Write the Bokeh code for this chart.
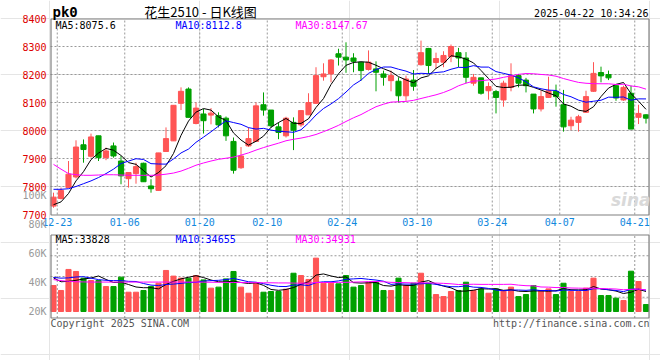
from bokeh.plotting import figure
from bokeh.models import (Range1d, LinearAxis, FixedTicker, Label, PrintfTickFormatter,
                          ColumnDataSource)
from bokeh.embed import file_html
from bokeh.resources import INLINE

# ---------------- data ----------------
dates = ["12-20", "12-23", "12-24", "12-25", "12-26", "12-27", "12-30", "12-31",
         "01-02", "01-03", "01-06", "01-07", "01-08", "01-09", "01-10", "01-13",
         "01-14", "01-15", "01-16", "01-17", "01-20", "01-21", "01-22", "01-23",
         "01-24", "01-27", "02-05", "02-06", "02-07", "02-10", "02-11", "02-12",
         "02-13", "02-14", "02-17", "02-18", "02-19", "02-20", "02-21", "02-24",
         "02-25", "02-26", "02-27", "02-28", "03-03", "03-04", "03-05", "03-06",
         "03-07", "03-10", "03-11", "03-12", "03-13", "03-14", "03-17", "03-18",
         "03-19", "03-20", "03-21", "03-24", "03-25", "03-26", "03-27", "03-28",
         "03-31", "04-01", "04-02", "04-03", "04-07", "04-08", "04-09", "04-10",
         "04-11", "04-14", "04-15", "04-16", "04-17", "04-18", "04-21", "04-22"]
tick_dates = ["12-23", "01-06", "01-20", "02-10", "02-24", "03-10", "03-24", "04-07", "04-21"]

opens = [7730, 7757, 7796, 7834, 7949, 7908, 7981, 7903, 7945, 7891,
         7828, 7846, 7883, 7802, 7786, 7925, 7963, 8097, 8148, 8025,
         8059, 8055, 8053, 8044, 7961, 7867, 7945, 7961, 8092, 8073,
         8013, 7981, 8029, 8020, 8056, 8097, 8192, 8202, 8274, 8262,
         8259, 8244, 8218, 8220, 8202, 8178, 8176, 8124, 8180, 8235,
         8293, 8243, 8244, 8264, 8278, 8259, 8169, 8188, 8142, 8139,
         8109, 8154, 8196, 8180, 8130, 8077, 8118, 8140, 8092, 8017,
         8029, 8065, 8140, 8207, 8200, 8160, 8109, 8133, 8047, 8056]
highs = [7778, 7796, 7891, 7965, 7968, 7989, 7981, 7939, 7957, 7909,
         7850, 7885, 7885, 7826, 7920, 8011, 8090, 8154, 8154, 8100,
         8077, 8080, 8065, 8050, 7975, 7941, 8011, 8100, 8136, 8073,
         8029, 8049, 8047, 8073, 8133, 8226, 8240, 8255, 8292, 8315,
         8276, 8244, 8286, 8247, 8214, 8214, 8190, 8196, 8216, 8321,
         8295, 8278, 8283, 8307, 8295, 8280, 8202, 8188, 8172, 8145,
         8178, 8240, 8202, 8188, 8130, 8142, 8192, 8164, 8145, 8049,
         8056, 8142, 8244, 8228, 8214, 8165, 8160, 8160, 8092, 8058]
lows = [7724, 7754, 7796, 7829, 7885, 7903, 7891, 7894, 7903, 7808,
        7796, 7810, 7817, 7778, 7784, 7925, 7963, 8073, 8047, 8022,
        7989, 8022, 8011, 7963, 7846, 7863, 7941, 7961, 8053, 8010,
        7969, 7975, 7930, 8013, 8056, 8095, 8178, 8172, 8232, 8206,
        8208, 8178, 8214, 8140, 8160, 8140, 8100, 8106, 8142, 8232,
        8202, 8220, 8226, 8244, 8226, 8169, 8160, 8128, 8110, 8061,
        8085, 8140, 8154, 8136, 8061, 8068, 8116, 8085, 7996, 8001,
        7996, 8063, 8138, 8172, 8180, 8106, 8106, 8005, 8023, 8025]
closes = [7762, 7786, 7844, 7941, 7932, 7977, 7903, 7927, 7909, 7838,
          7850, 7871, 7817, 7792, 7920, 7971, 8090, 8140, 8047, 8080,
          8035, 8062, 8020, 7981, 7858, 7909, 7971, 8088, 8073, 8017,
          7993, 8044, 8001, 8071, 8100, 8196, 8202, 8252, 8262, 8252,
          8247, 8214, 8244, 8208, 8190, 8196, 8124, 8184, 8158, 8278,
          8232, 8257, 8268, 8300, 8259, 8190, 8190, 8133, 8157, 8118,
          8169, 8196, 8169, 8160, 8077, 8121, 8142, 8121, 8013, 8037,
          8049, 8121, 8204, 8195, 8188, 8116, 8154, 8005, 8061, 8044]

ma5 = [7735, 7745, 7775, 7820, 7853.0, 7896.0, 7919.4, 7936.0, 7929.6, 7910.8,
       7885.4, 7879.0, 7857.0, 7833.6, 7850.0, 7874.2, 7918.0, 7982.6, 8033.6, 8065.6,
       8078.4, 8072.8, 8048.8, 8035.6, 7991.2, 7966.0, 7947.8, 7961.4, 7979.8, 8011.6,
       8028.4, 8043.0, 8025.6, 8025.2, 8041.8, 8082.4, 8114.0, 8164.2, 8202.4, 8232.8,
       8243.0, 8245.4, 8243.8, 8233.0, 8220.6, 8210.4, 8192.4, 8180.4, 8170.4, 8188.0,
       8195.2, 8221.8, 8238.6, 8267.0, 8263.2, 8254.8, 8241.4, 8214.4, 8185.8, 8157.6,
       8153.4, 8154.6, 8161.8, 8162.4, 8154.2, 8144.6, 8133.8, 8124.2, 8094.8, 8086.8,
       8072.4, 8068.2, 8084.8, 8121.2, 8151.4, 8164.8, 8171.4, 8131.6, 8104.8, 8075.6]
ma10 = [7790, 7790, 7792, 7800, 7810, 7820, 7832, 7846, 7862, 7881.9,
        7890.7, 7899.2, 7896.5, 7881.6, 7880.4, 7879.8, 7898.5, 7919.8, 7933.6, 7957.8,
        7976.3, 7995.4, 8015.7, 8034.6, 8028.4, 8022.2, 8010.3, 8005.1, 8007.7, 8001.4,
        7997.2, 7995.4, 7993.5, 8002.5, 8026.7, 8055.4, 8078.5, 8094.9, 8113.8, 8137.3,
        8162.7, 8179.7, 8204.0, 8217.7, 8226.7, 8226.7, 8218.9, 8212.1, 8201.7, 8204.3,
        8202.8, 8207.1, 8209.5, 8218.7, 8225.6, 8225.0, 8231.6, 8226.5, 8226.4, 8210.4,
        8204.1, 8198.0, 8188.1, 8174.1, 8155.9, 8149.0, 8144.2, 8143.0, 8128.6, 8120.5,
        8108.5, 8101.0, 8104.5, 8108.0, 8119.1, 8118.6, 8119.8, 8108.2, 8113.0, 8112.8]
ma30 = [7879, 7862, 7846, 7842, 7840, 7840, 7841, 7842, 7842, 7841,
        7840, 7840, 7840, 7840, 7841, 7844, 7848, 7855, 7865, 7876,
        7884, 7891, 7897, 7901, 7905, 7912, 7920, 7930, 7939, 7947.0,
        7954.7, 7963.3, 7968.6, 7972.9, 7978.5, 7985.8, 7995.8, 8006.6, 8018.4, 8032.2,
        8045.4, 8056.8, 8071.1, 8084.9, 8093.9, 8101.4, 8102.6, 8104.0, 8107.7, 8114.3,
        8120.9, 8127.4, 8135.7, 8146.3, 8159.7, 8169.0, 8176.3, 8177.8, 8180.6, 8184.0,
        8189.9, 8194.9, 8200.5, 8203.5, 8202.7, 8200.2, 8198.2, 8193.9, 8185.6, 8178.4,
        8171.8, 8168.7, 8167.4, 8166.9, 8166.9, 8164.2, 8165.2, 8159.2, 8156.0, 8147.67]

# volume in thousands (K)
vol = [37.9, 34.5, 49.0, 47.6, 43.0, 41.4, 41.4, 37.2, 37.2, 43.7,
       33.3, 33.3, 34.5, 37.2, 39.5, 48.3, 44.4, 43.0, 43.0, 44.8,
       41.8, 36.1, 36.8, 42.5, 47.6, 36.8, 32.6, 39.5, 33.3, 33.8,
       33.8, 35.4, 46.4, 44.8, 42.1, 56.8, 39.5, 39.5, 39.1, 44.8,
       36.8, 37.9, 40.2, 40.2, 34.5, 34.5, 43.0, 37.9, 39.5, 46.4,
       39.5, 31.7, 30.3, 33.8, 34.5, 40.2, 34.5, 35.6, 32.6, 35.6,
       34.5, 36.8, 30.3, 31.7, 37.9, 34.5, 35.6, 31.7, 39.5, 33.8,
       33.8, 36.1, 43.0, 31.0, 31.0, 29.2, 27.6, 47.8, 40.7, 24.8]
vma5 = [43.2, 40.5, 40.8, 41.5, 42.4, 43.1, 44.5, 42.1, 40.0, 40.2,
        38.6, 36.9, 36.4, 36.4, 35.6, 38.6, 40.8, 42.5, 43.6, 44.7,
        43.4, 41.7, 40.5, 40.4, 41.0, 40.0, 39.3, 39.8, 38.0, 35.2,
        34.6, 35.2, 36.5, 38.8, 40.5, 45.1, 45.9, 44.5, 43.4, 43.9,
        39.9, 39.6, 39.8, 40.0, 37.9, 37.5, 38.5, 38.0, 37.9, 40.3,
        41.3, 39.0, 37.5, 36.3, 34.0, 34.1, 34.7, 35.7, 35.5, 35.7,
        34.6, 35.0, 34.0, 33.8, 34.2, 34.2, 34.0, 34.3, 35.8, 35.0,
        34.9, 35.0, 37.2, 35.5, 35.0, 34.1, 32.4, 33.3, 35.3, 33.8]
vma10 = [43.5, 43.0, 43.2, 43.8, 44.0, 43.0, 42.0, 41.5, 41.3, 41.3,
         40.8, 40.7, 39.3, 38.2, 37.9, 38.6, 38.9, 39.4, 40.0, 40.1,
         41.0, 41.3, 41.5, 42.0, 42.8, 41.7, 40.5, 40.2, 39.2, 38.1,
         37.3, 37.2, 38.2, 38.4, 37.9, 39.9, 40.5, 40.5, 41.1, 42.2,
         42.5, 42.8, 42.2, 41.7, 40.9, 38.7, 39.1, 38.9, 38.9, 39.1,
         39.4, 38.7, 37.8, 37.1, 37.1, 37.7, 36.8, 36.6, 35.9, 34.8,
         34.3, 34.8, 34.8, 34.6, 35.0, 34.4, 34.5, 34.1, 34.8, 34.6,
         34.6, 34.5, 35.7, 35.7, 35.0, 34.5, 33.7, 35.3, 35.4, 34.7]
vma30 = [42.0, 41.3, 40.8, 40.5, 40.4, 40.3, 40.3, 40.3, 40.3, 40.3,
         40.3, 40.3, 40.3, 40.3, 40.3, 40.3, 40.3, 40.3, 40.3, 40.3,
         40.2, 40.2, 40.1, 40.1, 40.0, 40.0, 39.9, 39.9, 39.8, 39.8,
         39.7, 39.7, 39.6, 39.5, 39.5, 40.0, 40.0, 40.0, 40.1, 40.1,
         40.3, 40.4, 40.6, 40.7, 40.5, 40.1, 40.0, 39.9, 39.7, 39.8,
         39.7, 39.6, 39.4, 39.1, 38.6, 38.7, 38.8, 38.7, 38.7, 38.7,
         38.7, 38.8, 38.2, 37.8, 37.7, 36.9, 36.8, 36.5, 36.6, 36.2,
         36.1, 36.0, 36.1, 35.8, 35.7, 35.5, 35.0, 35.3, 35.4, 34.9]

price_ticks = [7700, 7800, 7900, 8000, 8100, 8200, 8300, 8400]
vol_ticks = [20, 40, 60, 80, 100]

title_text = "花生2510 - 日K线图"
code_text = "pk0"
stamp_text = "2025-04-22 10:34:26"
ma_texts = ["MA5:8075.6", "MA10:8112.8", "MA30:8147.67"]
vma_texts = ["MA5:33828", "MA10:34655", "MA30:34931"]

# ---------------- layout helpers (canvas pixels -> data units) ----------------
RED, GREEN = "#ff5555", "#00a000"
MA_COLORS = ["#000000", "#0000ff", "#ff00ff"]
GRID = "#999999"
BORDER = "#808080"
MONO = "DejaVu Sans Mono"

W, H = 660, 360
PL, PR = 50, 649                       # panel left/right edges (canvas px)
PX_DAY = 7.5                           # px per trading day
X0 = 0.1                               # data x at panel left
P_Y7700, P_PX = 214.0, 0.28            # canvas y of 7700, px per price unit
V_Y20, V_PX = 311.0, 1.45              # canvas y of 20K, px per K


def xd(px):
    return X0 + (px - PL) / PX_DAY


def pd_(py):
    return 7700 + (P_Y7700 - py) / P_PX


def vd(py):
    return 20 + (V_Y20 - py) / V_PX


n = len(closes)
xs = [i + 0.5 for i in range(n)]
colors = [RED if c >= o else GREEN for o, c in zip(opens, closes)]
src = ColumnDataSource(dict(
    x=xs, o=opens, h=highs, l=lows, c=closes,
    top=[max(o, c) for o, c in zip(opens, closes)],
    bot=[min(o, c) for o, c in zip(opens, closes)],
    color=colors, vol=vol, ma5=ma5, ma10=ma10, ma30=ma30,
    vma5=vma5, vma10=vma10, vma30=vma30))

# the frame covers the whole canvas; the two panels are drawn inside it
p = figure(width=W, height=H,
           x_range=Range1d(xd(0), xd(W)),
           y_range=Range1d(pd_(H), pd_(0)),
           output_backend="svg", toolbar_location=None,
           x_axis_location=None, y_axis_location=None, title=None,
           min_border_left=0, min_border_right=0, min_border_top=0, min_border_bottom=0,
           outline_line_color=None, background_fill_color="white", border_fill_color="white")
p.extra_y_ranges = {"vol": Range1d(vd(H), vd(0))}

tick_idx = [dates.index(d) for d in tick_dates]
x_left, x_right = xd(PL), xd(PR)
box_l, box_r = xd(50.5), xd(648.5)
vol_box_top, vol_box_bot = vd(234.5), vd(317.5)
q = (vol_box_top - vol_box_bot) / 4
vol_grid = [vol_box_bot + q, vol_box_bot + 2 * q, vol_box_bot + 3 * q]
inner_prices = price_ticks[1:-1]

# grid lines: drawn with the line glyph, one renderer per line
for v in inner_prices:
    p.line(x=[x_left, x_right], y=[v, v], line_color=GRID, line_width=1, line_dash="2 2")
for v in vol_grid:
    p.line(x=[x_left, x_right], y=[v, v], line_color=GRID, line_width=1, line_dash="2 2",
           y_range_name="vol")
for t in tick_idx:
    p.line(x=[t, t], y=[7700, 8400], line_color=GRID, line_width=1, line_dash="2 2")
    p.line(x=[t, t], y=[vol_box_bot, vol_box_top], line_color=GRID, line_width=1,
           line_dash="2 2", y_range_name="vol")

# candles
p.segment(x0="x", y0="l", x1="x", y1="h", line_color="color", line_width=1, source=src)
p.vbar(x="x", width=0.68, top="top", bottom="bot", fill_color="color",
       line_color="color", line_width=1, source=src)
for col, c in zip(["ma5", "ma10", "ma30"], MA_COLORS):
    p.line(x="x", y=col, line_color=c, line_width=1, source=src)

# volume
p.vbar(x="x", width=0.68, top="vol", bottom=20, fill_color="color", line_color="color",
       line_width=1, source=src, y_range_name="vol")
for col, c in zip(["vma5", "vma10", "vma30"], MA_COLORS):
    p.line(x="x", y=col, line_color=c, line_width=1, source=src, y_range_name="vol")

# panel borders, as closed polylines
main_top, main_bot = pd_(18.5), pd_(214.5)
p.line(x=[box_l, box_r, box_r, box_l, box_l], y=[main_top, main_top, main_bot, main_bot, main_top],
       line_color=BORDER, line_width=1.2)
p.line(x=[box_l, box_r, box_r, box_l, box_l],
       y=[vol_box_top, vol_box_top, vol_box_bot, vol_box_bot, vol_box_top],
       line_color=BORDER, line_width=1.2, y_range_name="vol")

# axes, fixed at the panel edges
axis_style = dict(axis_line_color=None, major_tick_line_color=None, minor_tick_line_color=None,
                  major_tick_in=0, major_tick_out=0,
                  major_label_text_font=MONO, major_label_text_font_size="10px")
price_axis = LinearAxis(ticker=FixedTicker(ticks=price_ticks), fixed_location=x_left,
                        major_label_standoff=4, major_label_text_color="#dd0000", **axis_style)
p.add_layout(price_axis, "left")
vol_axis = LinearAxis(y_range_name="vol", ticker=FixedTicker(ticks=vol_ticks),
                      formatter=PrintfTickFormatter(format="%dK"), fixed_location=x_left,
                      major_label_standoff=4, major_label_text_color="#999999",
                      major_label_text_baseline="top", **axis_style)
p.add_layout(vol_axis, "left")
date_axis = LinearAxis(ticker=FixedTicker(ticks=tick_idx),
                       major_label_overrides={i: dates[i] for i in tick_idx},
                       fixed_location=7700, major_label_standoff=3,
                       major_label_text_color="#1188dd", **axis_style)
p.add_layout(date_axis, "below")

# texts
p.add_layout(Label(x=xd(52), y=pd_(11.5), text=code_text, text_font=MONO, text_font_style="bold",
                   text_font_size="14px", text_color="#000000", text_baseline="middle"))
p.add_layout(Label(x=xd(200), y=pd_(10.5), text=title_text, text_font="Noto Sans CJK SC",
                   text_font_size="13px", text_color="#000000", text_align="center",
                   text_baseline="middle"))
p.add_layout(Label(x=xd(648), y=pd_(12.5), text=stamp_text, text_font=MONO,
                   text_font_size="10px", text_color="#000000", text_align="right",
                   text_baseline="middle"))
for t, px, c in zip(ma_texts, [55, 175, 295], MA_COLORS):
    p.add_layout(Label(x=xd(px), y=pd_(24.5), text=t, text_font=MONO, text_font_size="10px",
                       text_color=c, text_baseline="middle"))
for t, px, c in zip(vma_texts, [55, 175, 295], MA_COLORS):
    p.add_layout(Label(x=xd(px), y=vd(238.5), text=t, text_font=MONO, text_font_size="10px",
                       text_color=c, text_baseline="middle", y_range_name="vol"))
p.add_layout(Label(x=xd(50), y=vd(323), text="Copyright 2025 SINA.COM", text_font=MONO,
                   text_font_size="10px", text_color="#555555", text_baseline="middle",
                   y_range_name="vol"))
p.add_layout(Label(x=xd(649), y=vd(323), text="http://finance.sina.com.cn", text_font=MONO,
                   text_font_size="10px", text_color="#555555", text_align="right",
                   text_baseline="middle", y_range_name="vol"))
p.add_layout(Label(x=xd(650), y=pd_(199), text="sina", text_font="DejaVu Sans",
                   text_font_style="bold italic", text_font_size="17px", text_color="#d9d9d9",
                   text_align="right", text_baseline="middle"))

open("out.html", "w").write(file_html(p, INLINE))
